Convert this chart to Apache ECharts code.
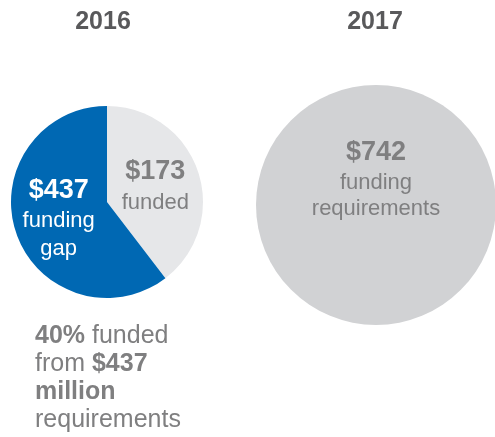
<!DOCTYPE html>
<html lang="en">
<head>
    <meta charset="UTF-8">
    <title>Funding</title>
    <script src="https://cdn.jsdelivr.net/npm/echarts@6/dist/echarts.min.js"></script>
    <style>
        html, body { margin: 0; padding: 0; background: #fff; }
    </style>
</head>
<body>
<div id="main" style="width: 495px;height:437px"></div>
<script>
    // values in US$ million
    const years = ['2016', '2017']
    const slices2016 = ['funded', 'funding gap']
    const values2016 = [173, 264]
    const labels2016 = [['$173', 'funded'], ['$437', 'funding', 'gap']]
    const requirements2017 = [742]
    const labels2017 = ['$742', 'funding', 'requirements']
    const noteLines = [['40%', ' funded'], ['from ', '$437'], ['million'], ['requirements']]
    const noteBold = [[true, false], [false, true], [true], [false]]

    const font = '"Liberation Sans", Arial, sans-serif'
    const myChart = echarts.init(document.getElementById('main'))

    function richLabel(lines) {
        return lines.map(function (s, i) {
            return '{' + (i === 0 ? 'v' : 't') + '|' + s + '}'
        }).join('\n')
    }

    const noteText = noteLines.map(function (line, i) {
        return line.map(function (s, j) {
            return '{' + (noteBold[i][j] ? 'b' : 'n') + '|' + s + '}'
        }).join('')
    }).join('\n')

    const titleStyle = {fontFamily: font, fontSize: 25, fontWeight: 'bold', color: '#59595b'}

    const option = {
        animation: false,
        title: [
            {text: years[0], left: 98, top: 5, textAlign: 'center', textStyle: titleStyle},
            {text: years[1], left: 370, top: 5, textAlign: 'center', textStyle: titleStyle}
        ],
        series: [
            {
                type: 'pie',
                silent: true,
                center: [107, 202],
                radius: 96,
                startAngle: 90,
                clockwise: true,
                labelLine: {show: false},
                emphasis: {disabled: true},
                data: values2016.map(function (v, i) {
                    const white = i === 1
                    return {
                        name: slices2016[i],
                        value: v,
                        itemStyle: {color: white ? '#0068b3' : '#e6e7e9'},
                        label: {
                            show: true,
                            position: 'inside',
                            formatter: richLabel(labels2016[i]),
                            rich: {
                                v: {
                                    fontFamily: font, fontSize: 27, fontWeight: 'bold',
                                    color: white ? '#ffffff' : '#7f7f80', lineHeight: 34
                                },
                                t: {
                                    fontFamily: font, fontSize: 22,
                                    color: white ? '#ffffff' : '#7f7f80', lineHeight: 28
                                }
                            }
                        }
                    }
                })
            },
            {
                type: 'pie',
                silent: true,
                center: [376, 205],
                radius: 120,
                labelLine: {show: false},
                emphasis: {disabled: true},
                data: requirements2017.map(function (v) {
                    return {
                        name: 'requirements',
                        value: v,
                        itemStyle: {color: '#d1d2d4'},
                        label: {
                            show: true,
                            position: 'center',
                            padding: [0, 0, 52, 0],
                            formatter: richLabel(labels2017),
                            rich: {
                                v: {fontFamily: font, fontSize: 27, fontWeight: 'bold', color: '#7f7f80', lineHeight: 34},
                                t: {fontFamily: font, fontSize: 22, color: '#7f7f80', lineHeight: 26}
                            }
                        }
                    }
                })
            }
        ],
        graphic: [
            {
                type: 'text',
                left: 35,
                top: 324,
                style: {
                    text: noteText,
                    rich: {
                        b: {fontFamily: font, fontSize: 25, fontWeight: 'bold', fill: '#7f7f80', lineHeight: 28},
                        n: {fontFamily: font, fontSize: 25, fill: '#7f7f80', lineHeight: 28}
                    }
                }
            }
        ]
    }

    myChart.setOption(option)
</script>
</body>
</html>
